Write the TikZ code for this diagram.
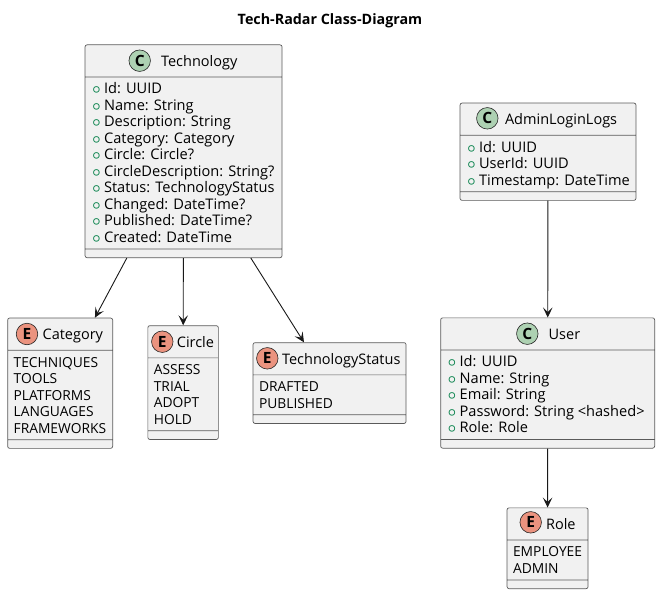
\documentclass[tikz,border=0pt]{standalone}
\usepackage{fontspec}
\setmainfont{Open Sans}
\usetikzlibrary{shapes.multipart,arrows.meta}
\definecolor{boxfill}{HTML}{F1F1F1}
\definecolor{boxline}{HTML}{5A5A5A}
\definecolor{classicon}{HTML}{ADD1B2}
\definecolor{enumicon}{HTML}{EB937F}
\definecolor{pubgreen}{HTML}{038048}
\newcommand{\hd}[2]{\hspace*{#1}\rule[-10.5pt]{0pt}{31.5pt}{\fontsize{14.5}{16.5}\selectfont #2}\hspace*{-4pt}}
\newcommand{\pub}{\hbox to 13pt{\kern1.2pt\textcolor{pubgreen}{\boldmath$\circ$}\hfil}}
\newcommand{\tl}{\rule{0pt}{16.5pt}}
\newcommand{\bl}{\rule[-6.2pt]{0pt}{6.2pt}}

\begin{document}
\begin{tikzpicture}[x=1pt,y=-1pt,>={Stealth[length=10pt,width=9.5pt,inset=4.5pt]},
    classbox/.style={rectangle split, rectangle split parts=3, draw=boxline, fill=boxfill,
      line width=0.7pt, rounded corners=2pt, anchor=north west, inner xsep=6pt, inner ysep=0pt,
      rectangle split part align={left}, rectangle split empty part height=8pt,
      rectangle split empty part depth=0pt, align=left, font=\fontsize{13.8}{16.5}\selectfont},
    membox/.style={classbox, font=\fontsize{14.6}{16.5}\selectfont},
    iconc/.style={circle, draw=black!85, fill=classicon, line width=0.6pt, minimum size=21.5pt, inner sep=0pt,
      font=\fontsize{15.5}{16}\selectfont\bfseries},
    icone/.style={iconc, fill=enumicon},
    link/.style={->, line width=0.9pt, draw=black!90}]
  \useasboundingbox (0,0) rectangle (660,594);
  \node[font=\fontsize{14.3}{16}\selectfont\bfseries] (title) at (330,20.5) {Tech-Radar Class-Diagram};

  \node[membox,minimum width=197pt] (tech) at (84.7,44.5) {\hd{70pt}{Technology}
    \nodepart{two}\tl\pub Id: UUID\\ \pub Name: String\\ \pub Description: String\\ \pub Category: Category\\
    \pub Circle: Circle?\\ \pub CircleDescription: String?\\ \pub Status: TechnologyStatus\\
    \pub Changed: DateTime?\\ \pub Published: DateTime?\\ \pub Created: DateTime\bl};
  \node[iconc] (techicon) at (139.7,60.7) {C};

  \node[membox,minimum width=175pt] (admin) at (459.7,102.7) {\hd{39pt}{AdminLoginLogs}
    \nodepart{two}\tl\pub Id: UUID\\ \pub UserId: UUID\\ \pub Timestamp: DateTime\bl};
  \node[iconc] (adminicon) at (487.3,118.3) {C};

  \node[membox,minimum width=214pt] (user) at (440.3,317.5) {\hd{102pt}{User}
    \nodepart{two}\tl\pub Id: UUID\\ \pub Name: String\\ \pub Email: String\\
    \pub Password: String <hashed>\\ \pub Role: Role\bl};
  \node[iconc] (usericon) at (527.3,333.7) {C};

  \node[classbox,minimum width=105pt] (cat) at (7.3,317.7) {\hd{29pt}{Category}
    \nodepart{two}\tl TECHNIQUES\\ TOOLS\\ PLATFORMS\\ LANGUAGES\\ FRAMEWORKS\bl};
  \node[icone] (caticon) at (27,334) {E};

  \node[classbox,minimum width=70.5pt] (circ) at (147.5,325.3) {\hd{23pt}{Circle}
    \nodepart{two}\tl ASSESS\\ TRIAL\\ ADOPT\\ HOLD\bl};
  \node[icone] (circicon) at (162.3,341.7) {E};

  \node[classbox,minimum width=153pt] (status) at (252.7,342.3) {\hd{23pt}{TechnologyStatus}
    \nodepart{two}\tl DRAFTED\\ PUBLISHED\bl};
  \node[icone] (statusicon) at (267.3,358.3) {E};

  \node[classbox,minimum width=80.5pt] (role) at (506.7,507.5) {\hd{33pt}{Role}
    \nodepart{two}\tl EMPLOYEE\\ ADMIN\bl};
  \node[icone] (roleicon) at (530.7,522.3) {E};

  \draw[link] (tech) -- (cat);
  \draw[link] (tech) -- (circ);
  \draw[link] (tech) -- (status);
  \draw[link] (admin) -- (user);
  \draw[link] (user) -- (role);
\end{tikzpicture}
\end{document}
